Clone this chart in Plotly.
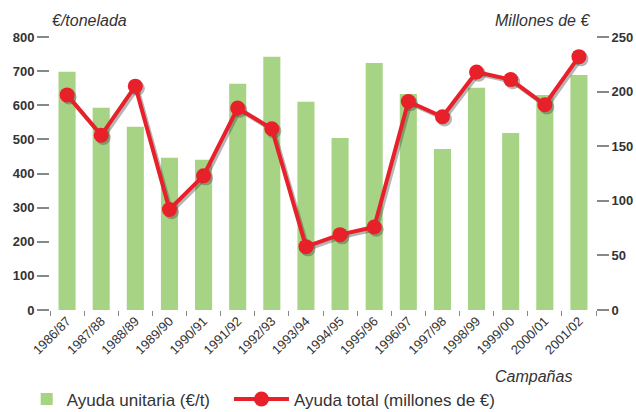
import plotly.graph_objects as go

# campañas
campanas = ['1986/87', '1987/88', '1988/89', '1989/90', '1990/91', '1991/92',
            '1992/93', '1993/94', '1994/95', '1995/96', '1996/97', '1997/98',
            '1998/99', '1999/00', '2000/01', '2001/02']

# ayuda unitaria (€/t), eje izquierdo
ayuda_unitaria = [698, 593, 537, 446, 440, 663, 742, 610,
                  504, 724, 633, 472, 651, 519, 630, 689]

# ayuda total (millones de €), eje derecho
ayuda_total = [197, 160, 205, 92, 123, 185, 166, 58,
               69, 76, 191, 177, 218, 211, 188, 232]

fig = go.Figure()

fig.add_trace(go.Bar(
    x=campanas, y=ayuda_unitaria, name='Ayuda unitaria (€/t)',
    marker=dict(color='#a6d384', line=dict(width=0)),
    width=0.5, yaxis='y', legend='legend'))

# eje derecho visible (sin datos propios, solo para las marcas)
fig.add_trace(go.Scatter(
    x=campanas, y=ayuda_total, mode='none', yaxis='y2',
    showlegend=False, hoverinfo='skip'))

# sombra de la línea (mismos datos, ejes ocultos ligeramente desplazados)
fig.add_trace(go.Scatter(
    x=campanas, y=ayuda_total, mode='lines+markers', xaxis='x2', yaxis='y3',
    line=dict(color='rgba(70,70,70,0.4)', width=4),
    marker=dict(color='rgba(70,70,70,0.4)', size=15),
    showlegend=False, hoverinfo='skip'))

fig.add_trace(go.Scatter(
    x=campanas, y=ayuda_total, name='Ayuda total (millones de €)',
    mode='lines+markers', xaxis='x3', yaxis='y4', legend='legend2',
    line=dict(color='#e8202a', width=4),
    marker=dict(color='#e8202a', size=15)))

boldfont = dict(family='Liberation Sans, Arial', size=13, color='#333333', weight='bold')
italic = dict(size=16, style='italic', color='#333333')
legfont = dict(size=17, color='#333333')

fig.update_layout(
    width=636, height=412,
    margin=dict(l=50, r=40, t=37, b=102),
    paper_bgcolor='white', plot_bgcolor='white',
    font=dict(family='Liberation Sans, Arial', color='#333333'),
    showlegend=True,
    legend=dict(orientation='h', xref='container', yref='container',
                x=0.042, xanchor='left', y=0.074, yanchor='top',
                font=legfont, itemwidth=30),
    legend2=dict(orientation='h', xref='container', yref='container',
                 x=0.36, xanchor='left', y=0.074, yanchor='top',
                 font=legfont, itemwidth=55),
    xaxis=dict(type='category', tickangle=-45, showgrid=False, showline=False,
               ticks='outside', tickson='boundaries', ticklen=5, tickcolor='#888888',
               tickwidth=1, automargin=False,
               tickfont=dict(family='Liberation Sans, Arial', size=13, color='#333333'),
               range=[-0.5, 15.5]),
    xaxis2=dict(type='category', overlaying='x', visible=False,
                range=[-0.56, 15.44], automargin=False),
    xaxis3=dict(type='category', overlaying='x', visible=False,
                range=[-0.5, 15.5], automargin=False),
    yaxis=dict(range=[0, 800], dtick=100, showgrid=False, showline=False, zeroline=False,
               ticks='outside', ticklen=12, tickwidth=2, tickcolor='#888888',
               automargin=False, tickfont=boldfont),
    yaxis2=dict(range=[0, 250], dtick=50, overlaying='y', side='right', showgrid=False,
                showline=False, zeroline=False, ticks='outside', ticklen=12, tickwidth=2,
                tickcolor='#888888', automargin=False, tickfont=boldfont),
    yaxis3=dict(range=[2, 252], overlaying='y', visible=False, automargin=False),
    yaxis4=dict(range=[0, 250], overlaying='y', visible=False, automargin=False),
    annotations=[
        dict(text='€/tonelada', xref='paper', yref='paper', x=0.0, y=1.0, yshift=17,
             xanchor='left', yanchor='middle', showarrow=False, font=italic),
        dict(text='Millones de €', xref='paper', yref='paper', x=0.993, y=1.0, yshift=17,
             xanchor='right', yanchor='middle', showarrow=False, font=italic),
        dict(text='Campañas', xref='paper', yref='paper', x=0.885, y=-0.245,
             xanchor='center', yanchor='middle', showarrow=False, font=italic),
    ],
)

# quitar el margen por defecto del <body>
fig.write_html("out.html", config={'displayModeBar': False},
               post_script="document.body.style.margin='0';")
